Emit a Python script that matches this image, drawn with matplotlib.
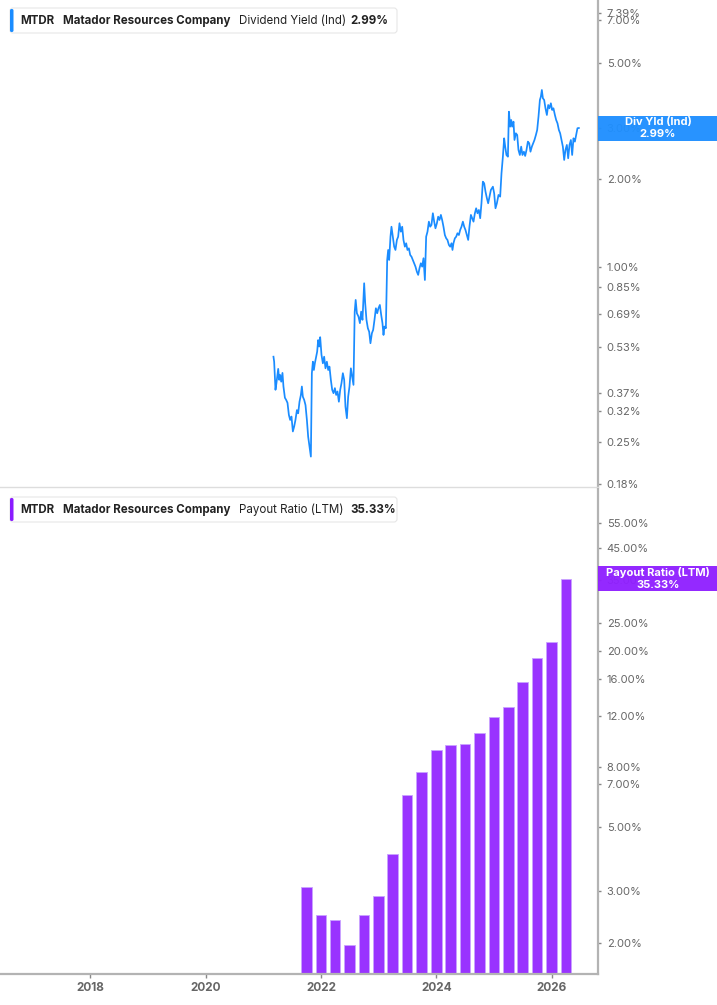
import matplotlib
matplotlib.use("Agg")
import matplotlib.pyplot as plt
from matplotlib.patches import FancyBboxPatch, Rectangle
from matplotlib.ticker import FixedLocator, NullLocator, FuncFormatter
from matplotlib.transforms import IdentityTransform
import pandas as pd

plt.rcParams['font.family'] = ['Inter', 'DejaVu Sans']

ticker = "MTDR"
company = "Matador Resources Company"

# dividend yield (Ind), daily-ish readings: decimal year, percent
yield_dates = [
    2021.177, 2021.189, 2021.212, 2021.229, 2021.259, 2021.276, 2021.293, 2021.311,
    2021.333, 2021.350, 2021.375, 2021.397, 2021.420, 2021.444, 2021.466, 2021.489,
    2021.513, 2021.536, 2021.558, 2021.583, 2021.605, 2021.628, 2021.652, 2021.669,
    2021.686, 2021.709, 2021.732, 2021.756, 2021.778, 2021.801, 2021.825, 2021.842,
    2021.860, 2021.877, 2021.894, 2021.912, 2021.934, 2021.951, 2021.969, 2021.986,
    2022.009, 2022.033, 2022.055, 2022.078, 2022.102, 2022.125, 2022.147, 2022.171,
    2022.194, 2022.217, 2022.241, 2022.263, 2022.286, 2022.310, 2022.333, 2022.355,
    2022.379, 2022.402, 2022.424, 2022.449, 2022.471, 2022.494, 2022.518, 2022.540,
    2022.563, 2022.584, 2022.601, 2022.622, 2022.650, 2022.674, 2022.696, 2022.719,
    2022.748, 2022.766, 2022.788, 2022.812, 2022.835, 2022.857, 2022.882, 2022.904,
    2022.927, 2022.951, 2022.974, 2022.996, 2023.020, 2023.043, 2023.065, 2023.083,
    2023.100, 2023.124, 2023.147, 2023.164, 2023.181, 2023.204, 2023.221, 2023.245,
    2023.268, 2023.290, 2023.315, 2023.337, 2023.360, 2023.384, 2023.407, 2023.429,
    2023.453, 2023.476, 2023.498, 2023.523, 2023.545, 2023.568, 2023.592, 2023.614,
    2023.637, 2023.661, 2023.684, 2023.706, 2023.730, 2023.753, 2023.776, 2023.800,
    2023.822, 2023.845, 2023.869, 2023.892, 2023.914, 2023.938, 2023.961, 2023.983,
    2024.008, 2024.030, 2024.053, 2024.077, 2024.099, 2024.122, 2024.146, 2024.169,
    2024.191, 2024.216, 2024.238, 2024.261, 2024.278, 2024.295, 2024.319, 2024.342,
    2024.364, 2024.389, 2024.411, 2024.434, 2024.458, 2024.481, 2024.503, 2024.527,
    2024.550, 2024.572, 2024.597, 2024.619, 2024.642, 2024.666, 2024.688, 2024.711,
    2024.735, 2024.758, 2024.780, 2024.804, 2024.827, 2024.850, 2024.874, 2024.896,
    2024.919, 2024.943, 2024.978, 2025.000, 2025.023, 2025.047, 2025.075, 2025.104,
    2025.127, 2025.151, 2025.173, 2025.191, 2025.213, 2025.238, 2025.255, 2025.277,
    2025.295, 2025.312, 2025.335, 2025.352, 2025.376, 2025.399, 2025.421, 2025.445,
    2025.468, 2025.490, 2025.515, 2025.537, 2025.560, 2025.584, 2025.607, 2025.629,
    2025.653, 2025.676, 2025.698, 2025.723, 2025.745, 2025.768, 2025.792, 2025.809,
    2025.826, 2025.844, 2025.866, 2025.889, 2025.913, 2025.936, 2025.958, 2025.982,
    2026.005, 2026.027, 2026.052, 2026.074, 2026.097, 2026.121, 2026.143, 2026.166,
    2026.190, 2026.213, 2026.235, 2026.259, 2026.282, 2026.305, 2026.329, 2026.351,
    2026.374, 2026.398, 2026.420, 2026.443, 2026.467,
]
yield_values = [
    0.491, 0.472, 0.378, 0.399, 0.446, 0.409, 0.425, 0.403,
    0.432, 0.388, 0.355, 0.349, 0.341, 0.310, 0.298, 0.306,
    0.272, 0.283, 0.298, 0.322, 0.314, 0.344, 0.363, 0.388,
    0.358, 0.349, 0.335, 0.298, 0.261, 0.241, 0.223, 0.431,
    0.472, 0.442, 0.466, 0.485, 0.511, 0.560, 0.532, 0.573,
    0.498, 0.466, 0.491, 0.448, 0.472, 0.442, 0.454, 0.409,
    0.378, 0.368, 0.383, 0.363, 0.373, 0.344, 0.378, 0.398,
    0.431, 0.409, 0.331, 0.302, 0.358, 0.388, 0.448, 0.419,
    0.393, 0.699, 0.769, 0.692, 0.674, 0.640, 0.701, 0.657,
    0.877, 0.749, 0.657, 0.615, 0.598, 0.546, 0.591, 0.607,
    0.657, 0.720, 0.692, 0.720, 0.739, 0.683, 0.640, 0.583,
    0.623, 0.615, 1.054, 1.141, 1.054, 1.267, 1.371, 1.267,
    1.171, 1.141, 1.235, 1.267, 1.409, 1.318, 1.371, 1.235,
    1.171, 1.203, 1.141, 1.156, 1.097, 1.082, 1.054, 1.027,
    1.000, 0.961, 0.937, 0.987, 1.027, 1.000, 1.069, 0.900,
    1.267, 1.318, 1.427, 1.371, 1.390, 1.525, 1.427, 1.354,
    1.409, 1.484, 1.446, 1.505, 1.446, 1.371, 1.284, 1.251,
    1.235, 1.187, 1.171, 1.203, 1.141, 1.203, 1.251, 1.267,
    1.302, 1.284, 1.336, 1.371, 1.427, 1.371, 1.336, 1.284,
    1.235, 1.371, 1.505, 1.466, 1.427, 1.525, 1.586, 1.525,
    1.565, 1.466, 1.650, 1.957, 1.932, 1.808, 1.717, 1.650,
    1.739, 1.833, 1.881, 1.785, 1.586, 1.650, 1.762, 1.739,
    2.091, 2.384, 2.757, 2.581, 2.416, 2.384, 3.402, 3.022,
    3.186, 3.022, 3.144, 2.720, 2.868, 2.830, 2.514, 2.416,
    2.581, 2.416, 2.480, 2.398, 2.514, 2.685, 2.651, 2.480,
    2.581, 2.651, 2.720, 2.830, 2.944, 3.271, 3.732, 3.830,
    4.038, 3.782, 3.732, 3.494, 3.314, 3.586, 3.494, 3.635,
    3.448, 3.494, 3.314, 3.186, 3.103, 2.944, 2.868, 2.720,
    2.581, 2.323, 2.514, 2.616, 2.354, 2.616, 2.720, 2.416,
    2.757, 2.685, 2.830, 2.985, 2.990,
]
yield_label = "Dividend Yield (Ind)"
yield_short = "Div Yld (Ind)"
yield_last = 2.99
yield_ticks = [7.39, 7.00, 5.00, 3.00, 2.00, 1.00, 0.85, 0.69, 0.53, 0.37, 0.32, 0.25, 0.18]

# payout ratio (LTM), quarterly
payout_quarters = [
    "2021-09-30", "2021-12-31", "2022-03-31", "2022-06-30", "2022-09-30",
    "2022-12-31", "2023-03-31", "2023-06-30", "2023-09-30", "2023-12-31",
    "2024-03-31", "2024-06-30", "2024-09-30", "2024-12-31", "2025-03-31",
    "2025-06-30", "2025-09-30", "2025-12-31", "2026-03-31",
]
payout_values = [3.11, 2.49, 2.40, 1.96, 2.49, 2.90, 4.03, 6.42, 7.70, 9.16,
                 9.55, 9.60, 10.5, 11.9, 12.9, 15.7, 18.9, 21.4, 35.33]
payout_label = "Payout Ratio (LTM)"
payout_last = 35.33
payout_ticks = [55.0, 45.0, 35.0, 25.0, 20.0, 16.0, 12.0, 8.0, 7.0, 5.0, 3.0, 2.0]

year_ticks = [2018, 2020, 2022, 2024, 2026]

BLUE = "#1a8cff"
PURPLE = "#9933ff"
W, H = 717, 1005


def decimal_year(s):
    d = pd.Timestamp(s)
    days = 366 if d.is_leap_year else 365
    return d.year + (d.dayofyear - 1) / days


def style_axis(ax, ticks, ylim):
    ax.set_yscale("log")
    ax.set_xlim(2016.44, 2026.79)
    ax.set_ylim(*ylim)
    ax.yaxis.tick_right()
    ax.yaxis.set_major_locator(FixedLocator(ticks))
    ax.yaxis.set_minor_locator(NullLocator())
    ax.yaxis.set_major_formatter(FuncFormatter(lambda v, p: f"{v:.2f}%"))
    ax.tick_params(axis="y", direction="out", length=2.2, width=1, color="#888888",
                   labelsize=8, labelcolor="#666666", pad=4.5)
    for s in ["left", "top"]:
        ax.spines[s].set_visible(False)
    ax.spines["right"].set_color("#b3b3b3")
    ax.spines["right"].set_linewidth(1.6)


def legend_box(y_top, color, metric, value):
    fig.add_artist(FancyBboxPatch((10, H - y_top - 25), 387, 25,
                                  boxstyle="round,pad=0,rounding_size=3",
                                  transform=IdentityTransform(), facecolor="white",
                                  edgecolor="#e6e6e6", linewidth=0.8))
    fig.add_artist(FancyBboxPatch((10, H - y_top - 24), 3.5, 23,
                                  boxstyle="round,pad=0,rounding_size=1.5",
                                  transform=IdentityTransform(), facecolor=color,
                                  edgecolor="none"))
    yc = 1 - (y_top + 13) / H
    parts = [(20.5, ticker, "bold"), (63.3, company, "bold"),
             (239, metric, "normal"), (350, value, "bold")]
    for x, s, w in parts:
        fig.text(x / W, yc, s, fontsize=8.3, fontweight=w, color="#222222",
                 va="center", ha="left")


def value_tag(ax, v, color, name, value):
    yd = ax.transData.transform((2020, v))[1]
    fig.add_artist(Rectangle((598, yd - 12.5), 119, 25, transform=IdentityTransform(),
                             facecolor=color, edgecolor="none", alpha=0.96))
    fig.text(658 / W, (yd + 6) / H, name, color="white", fontsize=8,
             fontweight="bold", ha="center", va="center")
    fig.text(658 / W, (yd - 6) / H, value, color="white", fontsize=8,
             fontweight="bold", ha="center", va="center")


fig = plt.figure(figsize=(W / 100, H / 100), dpi=100)
ax1 = fig.add_axes([0, 1 - 487 / H, 597.5 / W, 487 / H])
ax2 = fig.add_axes([0, 1 - 974 / H, 597.5 / W, (974 - 489) / H])

# top panel: dividend yield line
ax1.plot(yield_dates, yield_values, color=BLUE, lw=1.25, solid_joinstyle="round")
style_axis(ax1, yield_ticks, (0.1754, 8.22))
ax1.spines["bottom"].set_color("#dddddd")
ax1.spines["bottom"].set_linewidth(1)
ax1.set_xticks([])

# bottom panel: payout ratio bars
bar_x = [decimal_year(q) for q in payout_quarters]
ax2.bar(bar_x, [v - 1.0 for v in payout_values], bottom=1.0, width=0.184,
        color=PURPLE, edgecolor="#c9a3ff", linewidth=0.6)
style_axis(ax2, payout_ticks, (1.562, 71.8))
ax2.spines["bottom"].set_color("#b3b3b3")
ax2.spines["bottom"].set_linewidth(1.6)
ax2.set_xticks(year_ticks)
ax2.set_xticklabels([str(y) for y in year_ticks])
ax2.tick_params(axis="x", direction="out", length=3, width=1, color="#888888",
                labelsize=8.5, labelcolor="#666666", pad=3)
for lab in ax2.get_xticklabels():
    lab.set_fontweight("bold")

legend_box(8, BLUE, yield_label, f"{yield_last:.2f}%")
legend_box(497, "#8a1cff", payout_label, f"{payout_last:.2f}%")
value_tag(ax1, yield_last, "#1f8fff", yield_short, f"{yield_last:.2f}%")
value_tag(ax2, payout_last, "#9020ff", payout_label, f"{payout_last:.2f}%")

fig.savefig("out.png", dpi=100)
